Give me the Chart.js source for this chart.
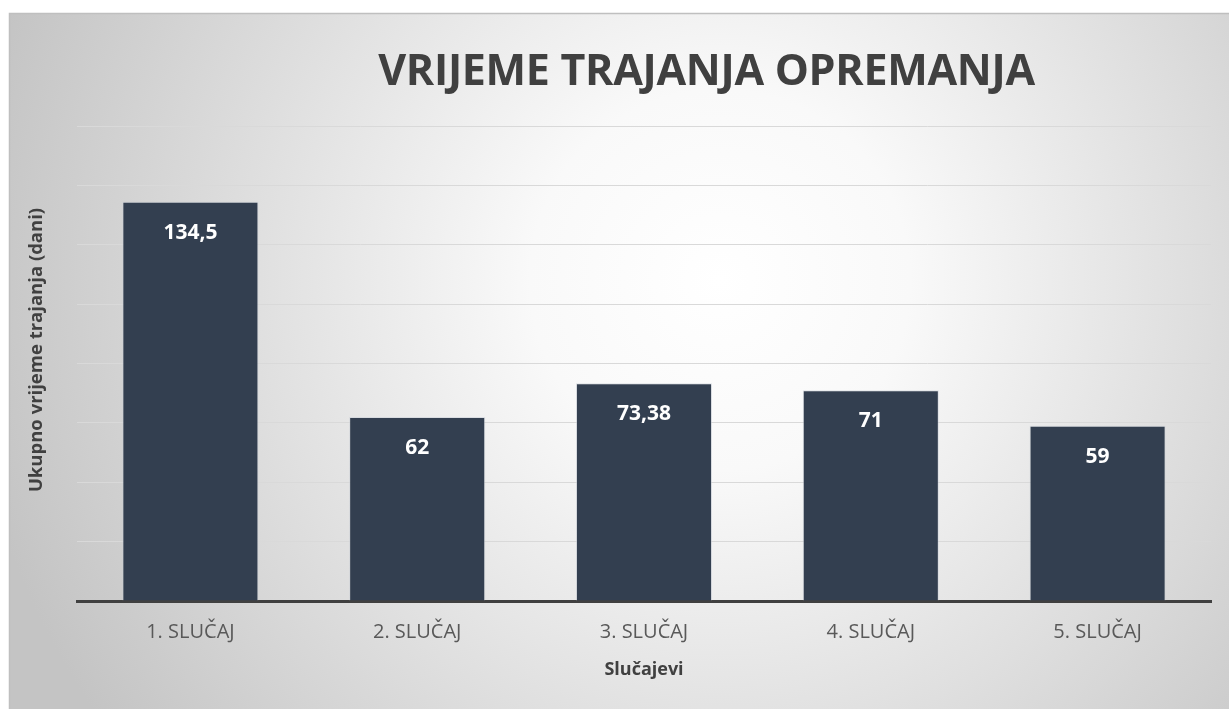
<!DOCTYPE html>
<html>
<head>
<meta charset="utf-8">
<script src="https://cdn.jsdelivr.net/npm/chart.js@4.4.1/dist/chart.umd.min.js"></script>
<style>
  html, body { margin: 0; padding: 0; background: #ffffff; }
  #wrap { position: relative; width: 1229px; height: 709px; }
  #title {
    position: absolute; left: 0; top: 39px; width: 1229px; text-align: center;
    font-family: "Open Sans", sans-serif; font-weight: 700; font-size: 43px;
    color: #404040; padding-left: 184px; box-sizing: border-box; white-space: nowrap;
    letter-spacing: -0.3px;
  }
  canvas { position: absolute; left: 0; top: 0; }
</style>
</head>
<body>
<div id="wrap">
  <canvas id="c" width="1229" height="709"></canvas>
  <div id="title">VRIJEME TRAJANJA OPREMANJA</div>
</div>
<script>
const chartTitle = "VRIJEME TRAJANJA OPREMANJA";
const categories = ["1. SLUČAJ", "2. SLUČAJ", "3. SLUČAJ", "4. SLUČAJ", "5. SLUČAJ"];
const values = [134.5, 62, 73.38, 71, 59];
const valueLabels = ["134,5", "62", "73,38", "71", "59"];
const yAxisTitle = "Ukupno vrijeme trajanja (dani)";
const xAxisTitle = "Slučajevi";
const yMin = 0, yMax = 160, yStep = 20;

document.getElementById('title').textContent = chartTitle;

const backgroundPlugin = {
  id: 'bg',
  beforeDraw(chart) {
    const ctx = chart.ctx;
    ctx.save();
    ctx.fillStyle = '#ffffff';
    ctx.fillRect(0, 0, chart.width, chart.height);
    const g = ctx.createRadialGradient(720, 280, 0, 720, 280, 760);
    g.addColorStop(0, '#ffffff');
    g.addColorStop(0.25, '#f9f9f9');
    g.addColorStop(1, '#c4c4c4');
    ctx.fillStyle = g;
    ctx.fillRect(9, 13, chart.width - 9, chart.height - 13);
    ctx.strokeStyle = '#bfbfbf';
    ctx.lineWidth = 1.5;
    ctx.beginPath();
    ctx.moveTo(9.5, chart.height);
    ctx.lineTo(9.5, 13.5);
    ctx.lineTo(chart.width, 13.5);
    ctx.stroke();
    ctx.restore();
  }
};

const labelPlugin = {
  id: 'vlabels',
  afterDatasetsDraw(chart) {
    const ctx = chart.ctx;
    const meta = chart.getDatasetMeta(0);
    ctx.save();
    ctx.fillStyle = '#ffffff';
    ctx.font = 'bold 21px "Open Sans", sans-serif';
    ctx.textAlign = 'center';
    ctx.textBaseline = 'middle';
    meta.data.forEach((bar, i) => {
      ctx.fillText(valueLabels[i], bar.x, bar.y + 31);
    });
    ctx.restore();
  },
  afterDraw(chart) {
    const ctx = chart.ctx;
    ctx.save();
    ctx.translate(37, 350);
    ctx.rotate(-Math.PI / 2);
    ctx.fillStyle = '#404040';
    ctx.font = 'bold 18.5px "Open Sans", sans-serif';
    ctx.textAlign = 'center';
    ctx.textBaseline = 'middle';
    ctx.fillText(yAxisTitle, 0, 0);
    ctx.restore();
  }
};

new Chart(document.getElementById('c'), {
  type: 'bar',
  data: {
    labels: categories,
    datasets: [{
      data: values,
      backgroundColor: '#333f50',
      borderColor: 'rgba(200,205,215,0.55)',
      borderWidth: 1,
      categoryPercentage: 1.0,
      barPercentage: 0.6
    }]
  },
  options: {
    responsive: false,
    animation: false,
    events: [],
    layout: { padding: { left: 20, right: 18, top: 126, bottom: 28 } },
    plugins: { legend: { display: false }, tooltip: { enabled: false }, title: { display: false } },
    scales: {
      x: {
        grid: { display: false, drawTicks: false },
        border: { display: true, color: '#404040', width: 3 },
        ticks: { color: '#595959', font: { family: '"Open Sans", sans-serif', size: 20 }, padding: 19, maxRotation: 0 },
        title: { display: true, text: xAxisTitle, color: '#404040', font: { family: '"Open Sans", sans-serif', size: 18, weight: 'bold' }, padding: { top: 12, bottom: 0 } },
        afterFit(s) { s.height = 709 - 601 - 28; }
      },
      y: {
        min: yMin, max: yMax,
        grid: { color: '#d9d9d9', lineWidth: 1, drawTicks: false },
        border: { display: false },
        ticks: { display: false, stepSize: yStep },
        title: { display: false },
        afterFit(s) { s.width = 77 - 20; }
      }
    }
  },
  plugins: [backgroundPlugin, labelPlugin]
});
</script>
</body>
</html>
